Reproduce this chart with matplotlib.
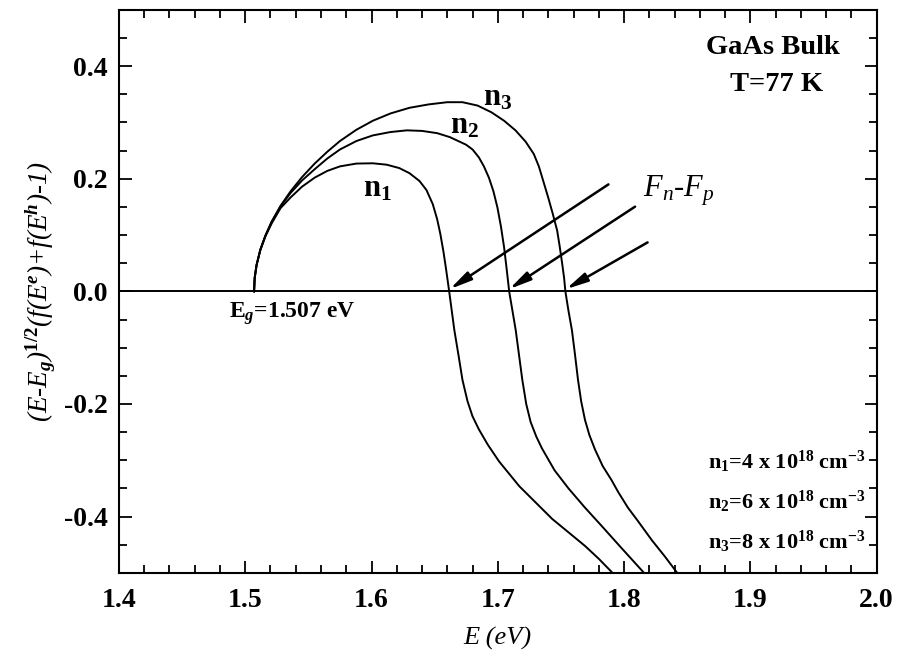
import matplotlib
matplotlib.use('Agg')
import matplotlib.pyplot as plt
from matplotlib.ticker import MultipleLocator

plt.rcParams['font.family'] = 'Liberation Serif'
plt.rcParams['font.weight'] = 'bold'
plt.rcParams['axes.unicode_minus'] = False
plt.rcParams['mathtext.fontset'] = 'custom'
plt.rcParams['mathtext.rm'] = 'Liberation Serif:bold'
plt.rcParams['mathtext.bf'] = 'Liberation Serif:bold'
plt.rcParams['mathtext.it'] = 'Liberation Serif:italic:bold'
plt.rcParams['mathtext.sf'] = 'Liberation Serif:style=italic:weight=normal'

# photon energy (eV) and gain factor for the three carrier densities
e_n1 = [1.507, 1.5075, 1.509, 1.512, 1.516, 1.521, 1.528, 1.536, 1.545, 1.555,
        1.565, 1.575, 1.588, 1.601, 1.612, 1.622, 1.630, 1.638, 1.6435, 1.6485,
        1.652, 1.6545, 1.657, 1.659, 1.6615, 1.6656, 1.669, 1.672, 1.676, 1.680,
        1.685, 1.692, 1.701, 1.717, 1.730, 1.743, 1.756, 1.769, 1.780, 1.790]
g_n1 = [0.0, 0.024, 0.047, 0.074, 0.098, 0.121, 0.148, 0.167, 0.186, 0.202,
        0.214, 0.222, 0.227, 0.2275, 0.225, 0.219, 0.210, 0.196, 0.180, 0.155,
        0.128, 0.102, 0.070, 0.040, 0.0, -0.069, -0.115, -0.157, -0.195, -0.222,
        -0.245, -0.272, -0.302, -0.346, -0.375, -0.404, -0.428, -0.452, -0.475, -0.498]

e_n2 = [1.507, 1.5075, 1.509, 1.512, 1.516, 1.521, 1.528, 1.536, 1.545, 1.555,
        1.565, 1.575, 1.588, 1.601, 1.615, 1.628, 1.640, 1.652, 1.662, 1.6748,
        1.680, 1.685, 1.689, 1.693, 1.6965, 1.6997, 1.7025, 1.705, 1.707, 1.709,
        1.7142, 1.7194, 1.7225, 1.726, 1.7305, 1.735, 1.745, 1.756, 1.769, 1.782,
        1.798, 1.815]
g_n2 = [0.0, 0.024, 0.047, 0.074, 0.099, 0.124, 0.151, 0.175, 0.197, 0.217,
        0.236, 0.252, 0.267, 0.277, 0.283, 0.286, 0.285, 0.281, 0.274, 0.2606,
        0.252, 0.238, 0.222, 0.2017, 0.178, 0.149, 0.115, 0.078, 0.040, 0.0,
        -0.069, -0.157, -0.200, -0.232, -0.258, -0.279, -0.318, -0.350, -0.384, -0.416,
        -0.456, -0.498]

e_n3 = [1.507, 1.5075, 1.509, 1.512, 1.516, 1.521, 1.528, 1.536, 1.545, 1.555,
        1.565, 1.575, 1.588, 1.601, 1.615, 1.630, 1.645, 1.660, 1.672, 1.684,
        1.695, 1.705, 1.714, 1.722, 1.7285, 1.7325, 1.736, 1.740, 1.7435, 1.747,
        1.749, 1.751, 1.7525, 1.7535, 1.756, 1.7587, 1.761, 1.7635, 1.766, 1.769,
        1.7725, 1.777, 1.783, 1.790, 1.7955, 1.803, 1.811, 1.822, 1.832, 1.8414]
g_n3 = [0.0, 0.024, 0.047, 0.074, 0.099, 0.124, 0.152, 0.178, 0.203, 0.227,
        0.248, 0.267, 0.287, 0.303, 0.316, 0.326, 0.332, 0.336, 0.336, 0.330,
        0.318, 0.303, 0.286, 0.266, 0.244, 0.222, 0.196, 0.166, 0.138, 0.108,
        0.080, 0.049, 0.024, 0.0, -0.035, -0.069, -0.110, -0.157, -0.195, -0.228,
        -0.255, -0.281, -0.310, -0.335, -0.357, -0.384, -0.408, -0.442, -0.470, -0.498]

# quasi-Fermi level separation for each density
fn_fp = [1.662, 1.709, 1.754]
arrow_tails = [(1.7876, 0.190), (1.8087, 0.1505), (1.8186, 0.087)]

densities = ['4', '6', '8']

fig = plt.figure(figsize=(9.01, 6.57), dpi=100)
ax = fig.add_axes([0.132, 0.128, 0.841, 0.857])

ax.axhline(0, color='black', lw=1.4)
for e, g in [(e_n1, g_n1), (e_n2, g_n2), (e_n3, g_n3)]:
    ax.plot(e, g, '-', color='black', lw=1.4)

for x0, (xt, yt) in zip(fn_fp, arrow_tails):
    ax.annotate('', xy=(x0, 0.004), xytext=(xt, yt),
                arrowprops=dict(arrowstyle='-|>,head_length=1.3,head_width=0.28',
                                color='black', lw=1.8, shrinkA=0, shrinkB=0))

ax.set_xlim(1.4, 2.0)
ax.set_ylim(-0.5, 0.5)
ax.xaxis.set_major_locator(MultipleLocator(0.1))
ax.xaxis.set_minor_locator(MultipleLocator(0.02))
ax.yaxis.set_major_locator(MultipleLocator(0.2))
ax.yaxis.set_minor_locator(MultipleLocator(0.05))
ax.tick_params(which='both', direction='in', top=True, right=True, width=1.3)
ax.tick_params(which='major', length=9, labelsize=20, pad=8)
ax.tick_params(axis='x', which='major', pad=11)
ax.tick_params(which='minor', length=5.5)
for s in ax.spines.values():
    s.set_linewidth(1.5)

ax.set_xlabel('E (eV)', fontsize=19, fontstyle='italic', labelpad=10)
ax.set_ylabel(r'(E-E$_g$)$^{\mathit{1/2}}$(f(E$^e$)+f(E$^h$)-1)', fontsize=19.5,
              fontstyle='italic', labelpad=4)

ax.text(1.918, 0.434, 'GaAs Bulk', fontsize=20.5, ha='center', va='center')
ax.text(1.921, 0.367, 'T=77 K', fontsize=20.5, ha='center', va='center')
ax.text(1.815, 0.178, r'$\mathsf{F_n}$-$\mathsf{F_p}$', fontsize=22, ha='left',
        va='center', fontweight='normal', fontstyle='italic')

ax.text(1.605, 0.182, r'n$_1$', fontsize=22, ha='center', va='center')
ax.text(1.674, 0.293, r'n$_2$', fontsize=22, ha='center', va='center')
ax.text(1.700, 0.343, r'n$_3$', fontsize=22, ha='center', va='center')

ax.text(1.487, -0.039, r'E$_g$=1.507 eV', fontsize=17, ha='left', va='center')

for i, (d, y) in enumerate(zip(densities, [-0.303, -0.374, -0.445])):
    ax.text(1.991, y, r'n$_%d$=%s x 10$^{18}$ cm$^{-3}$' % (i + 1, d), fontsize=16,
            ha='right', va='center')

fig.savefig('out.png', dpi=100)
